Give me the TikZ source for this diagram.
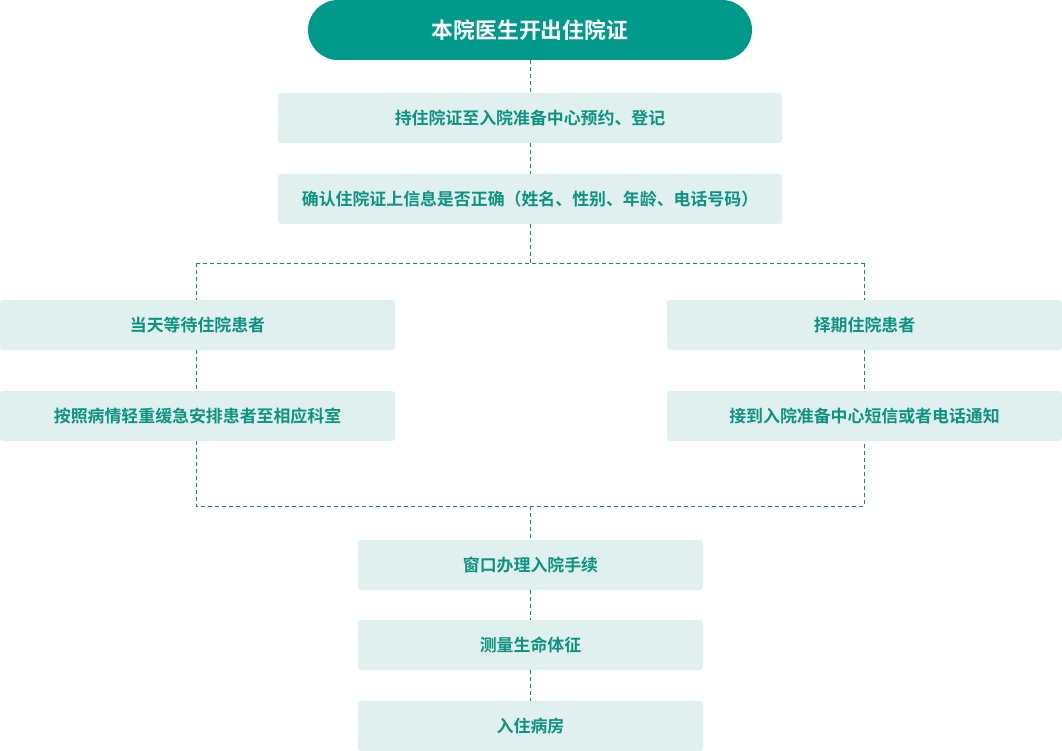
\documentclass[tikz,border=0pt]{standalone}
\usepackage{fontspec}
\newfontfamily\cjk{Noto Sans CJK SC}[BoldFont={* Bold}]
\definecolor{teal1}{HTML}{009A8A}
\definecolor{tealtext}{HTML}{0E9382}
\definecolor{lightbox}{HTML}{E0F0EE}
\definecolor{dashcol}{HTML}{1A8A72}
\begin{document}
\begin{tikzpicture}[x=1pt,y=-1pt,
  lbox/.style={fill=lightbox,draw=none,rounded corners=3pt,inner sep=0pt,
    text=tealtext,font=\cjk\bfseries\fontsize{16.9}{20}\selectfont},
  conn/.style={draw=dashcol,dashed,dash pattern=on 4pt off 3pt,line width=0.9pt}]
\useasboundingbox (0,0) rectangle (1062,751);
% top pill
\node[fill=teal1,rounded corners=30pt,minimum width=444pt,minimum height=60pt,inner sep=0pt,
  text=white,font=\cjk\bfseries\fontsize{21.8}{24}\selectfont] (top) at (530,30) {本院医生开出住院证};
\node[lbox,minimum width=504pt,minimum height=50pt] (b1) at (530,118) {持住院证至入院准备中心预约、登记};
\node[lbox,minimum width=504pt,minimum height=50pt] (b2) at (530,199) {确认住院证上信息是否正确（姓名、性别、年龄、电话号码）};
\node[lbox,minimum width=395pt,minimum height=50pt] (l1) at (197.5,325) {当天等待住院患者};
\node[lbox,minimum width=395pt,minimum height=50pt] (l2) at (197.5,416) {按照病情轻重缓急安排患者至相应科室};
\node[lbox,minimum width=395pt,minimum height=50pt] (r1) at (864.5,325) {择期住院患者};
\node[lbox,minimum width=395pt,minimum height=50pt] (r2) at (864.5,416) {接到入院准备中心短信或者电话通知};
\node[lbox,minimum width=345pt,minimum height=50pt] (c1) at (530.5,565) {窗口办理入院手续};
\node[lbox,minimum width=345pt,minimum height=50pt] (c2) at (530.5,645) {测量生命体征};
\node[lbox,minimum width=345pt,minimum height=50pt] (c3) at (530.5,726) {入住病房};
\coordinate (s1) at (530,263);
\coordinate (sl) at (196,263);
\coordinate (sr) at (864,263);
\coordinate (j1) at (530,506);
\coordinate (jl) at (196,506);
\coordinate (jr) at (864,506);
\draw[conn] (top.south) -- (b1.north);
\draw[conn] (b1.south) -- (b2.north);
\draw[conn] (b2.south) -- (s1);
\draw[conn] (sl) -- (sr);
\draw[conn] (sl) -- (sl |- l1.north);
\draw[conn] (sr) -- (sr |- r1.north);
\draw[conn] (sl |- l1.south) -- (sl |- l2.north);
\draw[conn] (sr |- r1.south) -- (sr |- r2.north);
\draw[conn] (sl |- l2.south) -- (jl) -- (jr) -- (sr |- r2.south);
\draw[conn] (j1) -- (j1 |- c1.north);
\draw[conn] (j1 |- c1.south) -- (j1 |- c2.north);
\draw[conn] (j1 |- c2.south) -- (j1 |- c3.north);
\end{tikzpicture}
\end{document}
